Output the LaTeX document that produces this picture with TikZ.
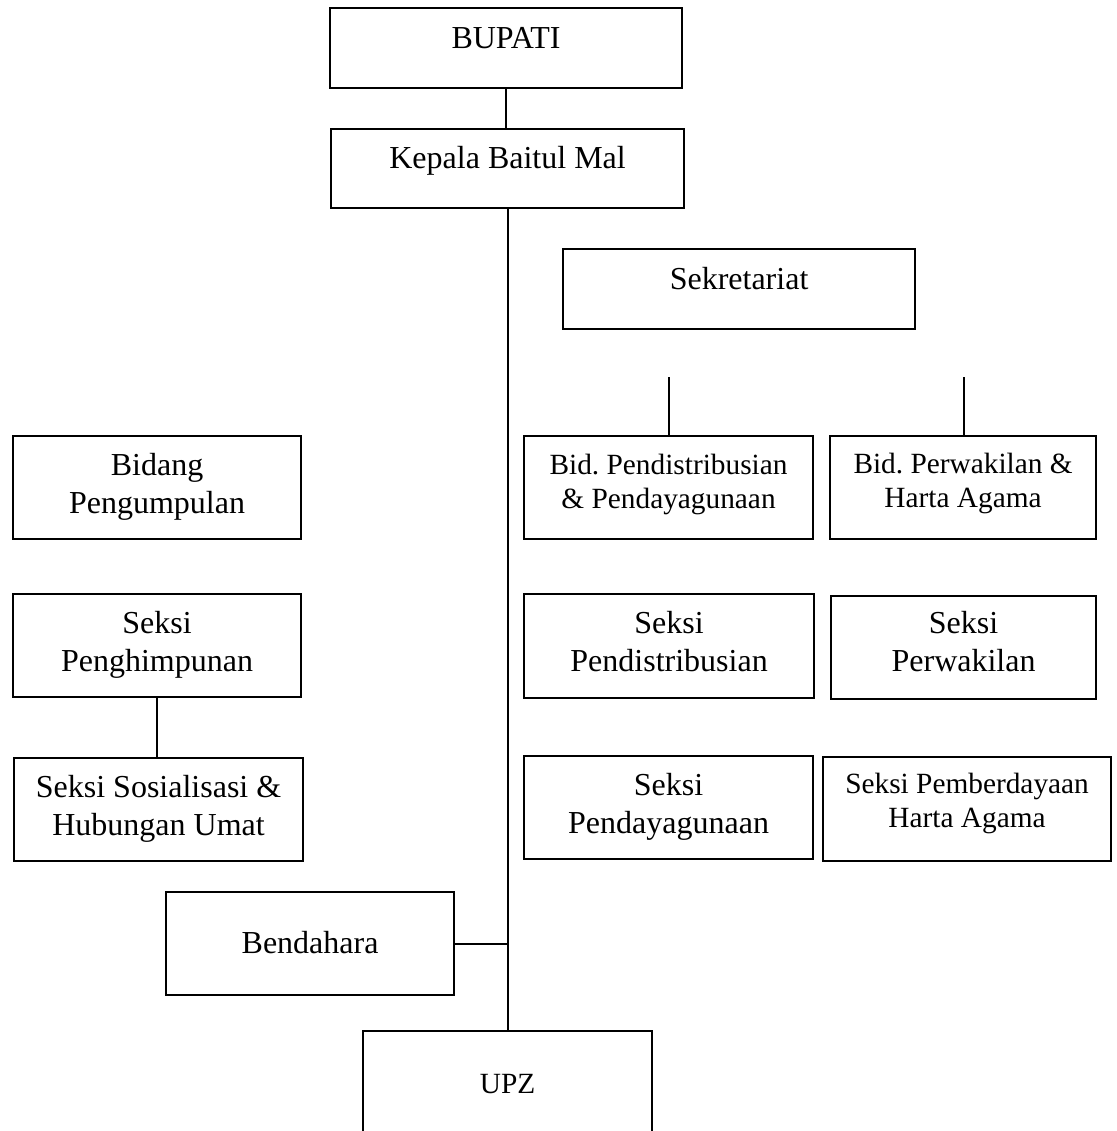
\documentclass[tikz,border=0pt]{standalone}
\usepackage{fontspec}
\setmainfont{Liberation Serif}
\usetikzlibrary{positioning,calc}
\newcommand{\pxu}{0.375pt}
\frenchspacing

\begin{document}
\begin{tikzpicture}[x=\pxu, y=-\pxu, line width=0.8pt,
  orgbox/.style n args={3}{draw, align=center, anchor=north west, inner sep=0pt,
    font=\fontsize{12}{14}\selectfont,
    minimum width=#1*\pxu, text height=#3*\pxu, text depth=(#2-#3)*\pxu},
  smaller/.style={font=\fontsize{11}{12.7}\selectfont}]
\clip (0,0) rectangle (1116,1131);

% pimpinan
\node[orgbox={352}{80}{40}] (bupati) at (329,7) {BUPATI};
\node[orgbox={353}{79}{39}] (kepala) at (330,128) {Kepala Baitul Mal};
\node[orgbox={352}{80}{40}] (sekretariat) at (562,248) {Sekretariat};

% bidang
\node[orgbox={288}{103}{77}] (bidpeng) at (12,435) {Bidang\\Pengumpulan};
\node[orgbox={289}{103}{72}, smaller] (bidpend) at (523,435) {Bid. Pendistribusian\\\& Pendayagunaan};
\node[orgbox={266}{103}{71}, smaller] (bidperw) at (829,435) {Bid. Perwakilan \&\\Harta Agama};

% seksi
\node[orgbox={288}{103}{77}] (sekhimpun) at (12,593) {Seksi\\Penghimpunan};
\node[orgbox={290}{104}{77}] (sekdistrib) at (523,593) {Seksi\\Pendistribusian};
\node[orgbox={265}{103}{75}] (sekwakil) at (830,595) {Seksi\\Perwakilan};
\node[orgbox={289}{103}{77}] (seksos) at (13,757) {Seksi Sosialisasi \&\\Hubungan Umat};
\node[orgbox={289}{103}{77}] (sekdaya) at (523,755) {Seksi\\Pendayagunaan};
\node[orgbox={288}{104}{70}, smaller] (sekharta) at (822,756) {Seksi Pemberdayaan\\Harta Agama};

\node[orgbox={288}{103}{61}] (bendahara) at (165,891) {Bendahara};
\node[orgbox={289}{140}{62}, smaller] (upz) at (362,1030) {UPZ};

\coordinate (tdist) at (669,377);
\coordinate (twakil) at (964,377);

\draw (bupati.south) -- (bupati.south |- kepala.north);
\draw (kepala.south) -- (upz.north);
\draw (bendahara.east) -- (bendahara.east -| upz.north);
\draw (sekhimpun.south) -- (sekhimpun.south |- seksos.north);
\draw (tdist) -- (tdist |- bidpend.north);
\draw (twakil) -- (twakil |- bidperw.north);
\end{tikzpicture}
\end{document}
